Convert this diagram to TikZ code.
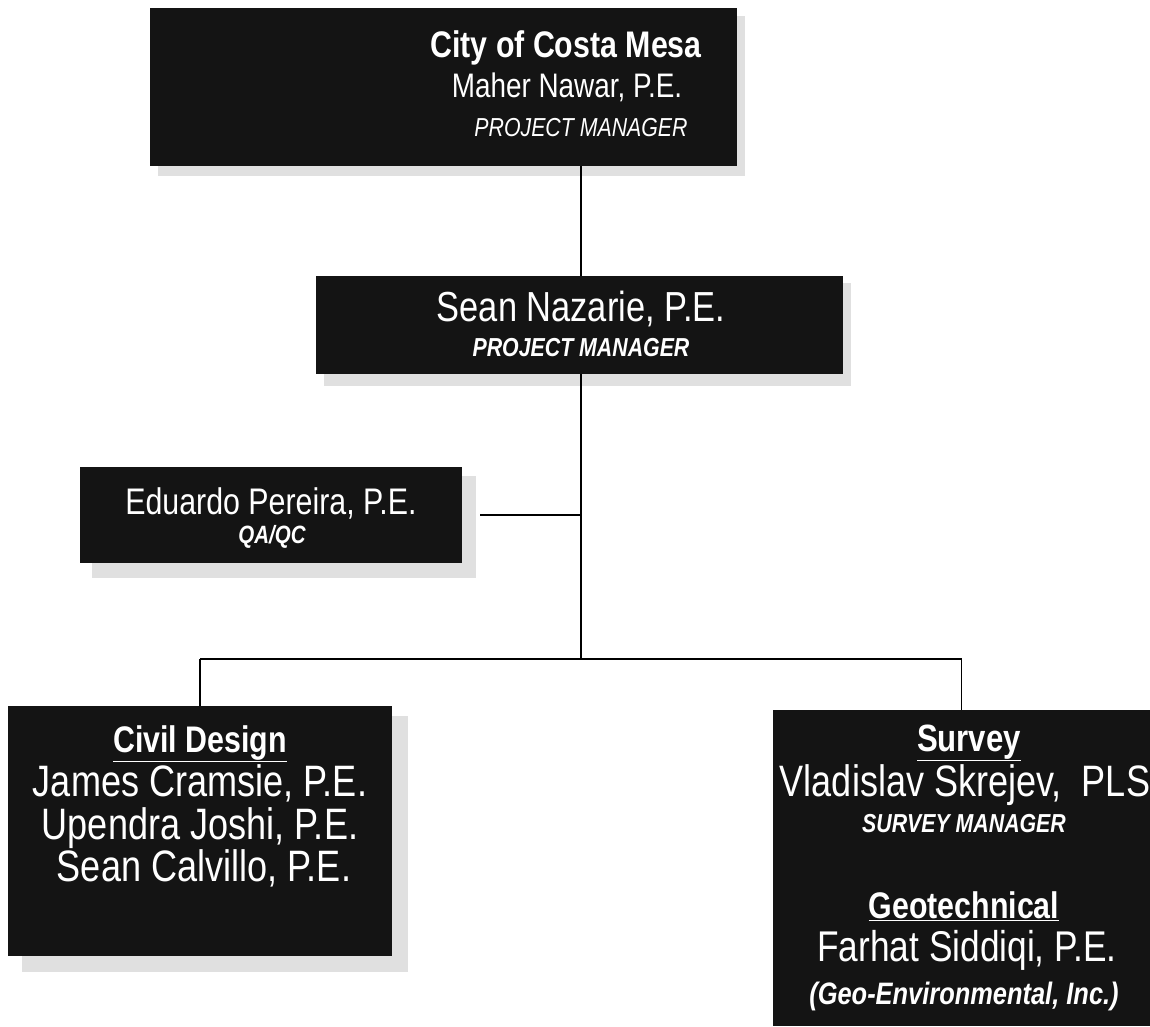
\documentclass[tikz,border=0pt]{standalone}
\usepackage{fontspec}
\setmainfont{Liberation Sans}[FakeStretch=0.82]
\definecolor{boxc}{gray}{0.08}
\definecolor{shc}{gray}{0.88}
\tikzset{
  box/.style={rectangle, fill=boxc, draw=none, inner sep=0pt},
  shbox/.style={fill=shc},
  txt/.style={text=white, anchor=base, inner sep=0pt},
  conn/.style={line width=1.6pt, draw=black},
}
\newcommand{\fs}[1]{\fontsize{#1}{#1}\selectfont}
\begin{document}
\begin{tikzpicture}[x=1pt,y=-1pt]
\useasboundingbox (0,0) rectangle (1150,1026);
% shadows
\fill[shbox] (158,16) rectangle (745,176);
\fill[shbox] (324,283) rectangle (851,386);
\fill[shbox] (92,476) rectangle (476,578);
\fill[shbox] (22,716) rectangle (408,972);
% boxes
\node[box, minimum width=587pt, minimum height=158pt] (top) at (443.5,87) {};
\node[box, minimum width=527pt, minimum height=98pt] (sean) at (579.5,325) {};
\node[box, minimum width=382pt, minimum height=96pt] (qa) at (271,515) {};
\node[box, minimum width=384pt, minimum height=250pt] (civil) at (200,831) {};
\node[box, minimum width=377pt, minimum height=316pt] (survey) at (961.5,868) {};
% texts
\node[txt, font=\fs{37}\bfseries] (t1) at (566,57) {City of Costa Mesa};
\node[txt, font=\fs{34}] (t2) at (567,97) {Maher Nawar, P.E.};
\node[txt, font=\fs{26}\itshape] (t3) at (581,136) {PROJECT MANAGER};
\node[txt, font=\fs{42}] (s1) at (581,321) {Sean Nazarie, P.E.};
\node[txt, font=\fs{26}\bfseries\itshape] (s2) at (581,356) {PROJECT MANAGER};
\node[txt, font=\fs{37}] (q1) at (271,514) {Eduardo Pereira, P.E.};
\node[txt, font=\fs{25}\bfseries\itshape] (q2) at (272,543) {QA/QC};
\node[txt, font=\fs{37}\bfseries] (c1) at (200,752) {\underline{Civil Design}};
\node[txt, font=\fs{44}] (c2) at (200,796) {James Cramsie, P.E.};
\node[txt, font=\fs{44}] (c3) at (200,839) {Upendra Joshi, P.E.};
\node[txt, font=\fs{44}] (c4) at (204,881) {Sean Calvillo, P.E.};
\node[txt, font=\fs{38}\bfseries] (v1) at (969,751) {\underline{Survey}};
\node[txt, font=\fs{44}] (v2) at (965,796) {Vladislav Skrejev,\ \ PLS};
\node[txt, font=\fs{26}\bfseries\itshape] (v3) at (964,832) {SURVEY MANAGER};
\node[txt, font=\fs{37}\bfseries] (g1) at (964,918) {\underline{Geotechnical}};
\node[txt, font=\fs{43}] (g2) at (967,961) {Farhat Siddiqi, P.E.};
\node[txt, font=\fs{31}\bfseries\itshape] (g3) at (964,1004) {(Geo-Environmental, Inc.)};
% connectors
\coordinate (junc) at (581,659);
\draw[conn] (sean.north -| 581,0) -- (top.south -| 581,0);
\draw[conn] (sean.south -| junc) -- (junc);
\draw[conn] ([xshift=18pt]qa.east) -- (qa.east -| junc);
\draw[conn] (civil.north |- junc) -- (survey.north |- junc);
\draw[conn] (civil.north) -- (civil.north |- junc);
\draw[conn] (survey.north) -- (survey.north |- junc);
\end{tikzpicture}
\end{document}
